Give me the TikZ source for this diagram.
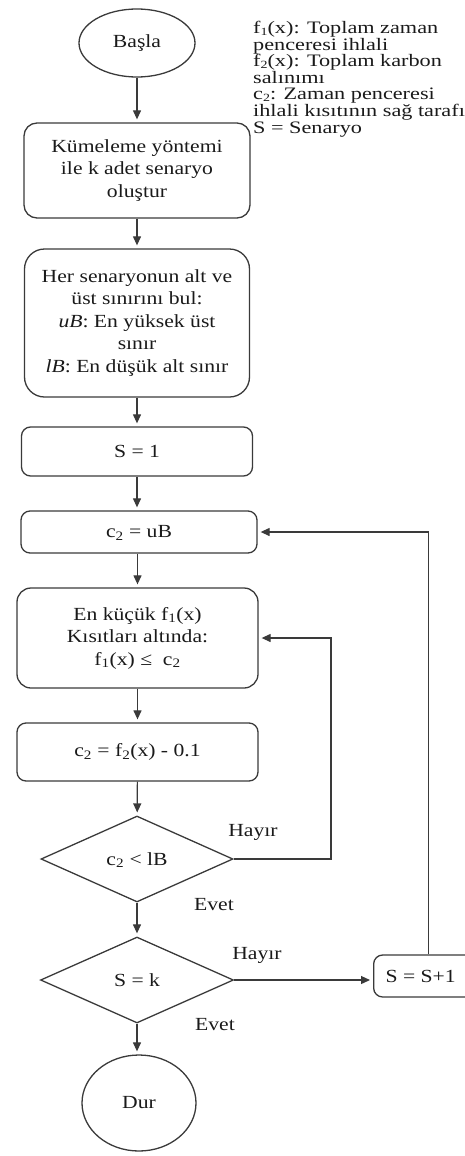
\documentclass[tikz,border=0pt]{standalone}
\usepackage{fontspec}
\setmainfont{Liberation Serif}[FakeStretch=1.17]
\newfontfamily\legendfont{Liberation Serif}[FakeStretch=1.27]
\usetikzlibrary{shapes.geometric,arrows.meta,calc}
\definecolor{ln}{HTML}{3A3A3A}
\definecolor{tx}{HTML}{1A1A1A}
\newcommand\lowidx[1]{\smash{\textsubscript{#1}}}
\newcommand\legidx[1]{\smash{\raisebox{-1.5pt}{\fontsize{11}{11}\selectfont #1}}}
\begin{document}
\begin{tikzpicture}[x=1pt,y=-1pt,
  every node/.style={text=tx},
  box/.style={draw=ln,line width=1.3pt,rounded corners=9pt,align=center,inner sep=0pt,font=\fontsize{18.5}{22.5}\selectfont},
  term/.style={draw=ln,line width=1.3pt,ellipse,inner sep=0pt,font=\fontsize{18.5}{22.5}\selectfont},
  decide/.style={draw=ln,line width=1.3pt,diamond,inner sep=0pt,font=\fontsize{18.5}{22.5}\selectfont},
  lbl/.style={inner sep=0pt,font=\fontsize{18.5}{22.5}\selectfont},
  arr/.style={draw=ln,line width=1.2pt,-{Triangle[length=9pt,width=8pt]},shorten >=3pt}
]
\useasboundingbox (0,0) rectangle (465,1156);
\clip (0,0) rectangle (465,1156);

\node[term,minimum width=116pt,minimum height=68pt] (basla) at (137,43) {Başla};
\node[box,rounded corners=13pt,minimum width=226pt,minimum height=95pt] (k1) at (137,170.5)
  {Kümeleme yöntemi\\ile k adet senaryo\\oluştur};
\node[box,rounded corners=20pt,minimum width=225pt,minimum height=148pt] (k2) at (137,323)
  {Her senaryonun alt ve\\üst sınırını bul:\\\textit{uB}: En yüksek üst\\sınır\\\textit{lB}: En düşük alt sınır};
\node[box,minimum width=231pt,minimum height=49pt] (s1) at (137,451.5) {S = 1};
\node[box,minimum width=236pt,minimum height=42pt] (cub) at (139,532) {c\lowidx{2} = uB};
\node[box,rounded corners=14pt,minimum width=241pt,minimum height=100pt] (minf) at (137.5,638)
  {En küçük f\lowidx{1}(x)\\Kısıtları altında:\\f\lowidx{1}(x) ≤~ c\lowidx{2}};
\node[box,minimum width=241pt,minimum height=58pt] (cf2) at (137.5,752) {c\lowidx{2} = f\lowidx{2}(x) - 0.1};
\node[decide,minimum width=192pt,minimum height=86pt] (d1) at (137,859) {c\lowidx{2} < lB};
\node[decide,minimum width=193pt,minimum height=86pt] (d2) at (137,980) {S = k};
\node[term,minimum width=114pt,minimum height=96pt] (dur) at (139,1103) {Dur};
\node[box,minimum width=110pt,minimum height=42pt,anchor=west] (ss1) at (373,976) {\hspace*{-16pt}S = S+1};

\node[anchor=north west,align=left,inner sep=0pt,font=\legendfont\fontsize{17.5}{16.6}\selectfont] (legend) at (253,21)
  {f\legidx{1}(x): Toplam zaman\\penceresi ihlali\\f\legidx{2}(x): Toplam karbon\\salınımı\\c\legidx{2}: Zaman penceresi\\ihlali kısıtının sağ tarafı\\S = Senaryo};

\node[lbl] (h1) at (253,832) {Hayır};
\node[lbl] (e1) at (214,905) {Evet};
\node[lbl] (h2) at (257,955) {Hayır};
\node[lbl] (e2) at (215,1025) {Evet};

\coordinate (loopa) at (331,0);

\draw[arr] (basla) -- (k1);
\draw[arr] (k1) -- (k2);
\draw[arr] (k2) -- (s1);
\draw[arr] (s1.south) -- (s1.south |- cub.north);
\draw[arr] (cub.south -| minf.north) -- (minf.north);
\draw[arr] (minf) -- (cf2);
\draw[arr] (cf2) -- (d1);
\draw[arr] (d1) -- (d2);
\draw[arr] (d2.south) -- (d2.south |- dur.north);
\draw[arr] (d2.east) -- (d2.east -| ss1.west);
\draw[arr] (d1.east) -| (loopa |- minf.east) -- (minf.east);
\draw[arr] (ss1.north) |- (cub.east);
\end{tikzpicture}
\end{document}
